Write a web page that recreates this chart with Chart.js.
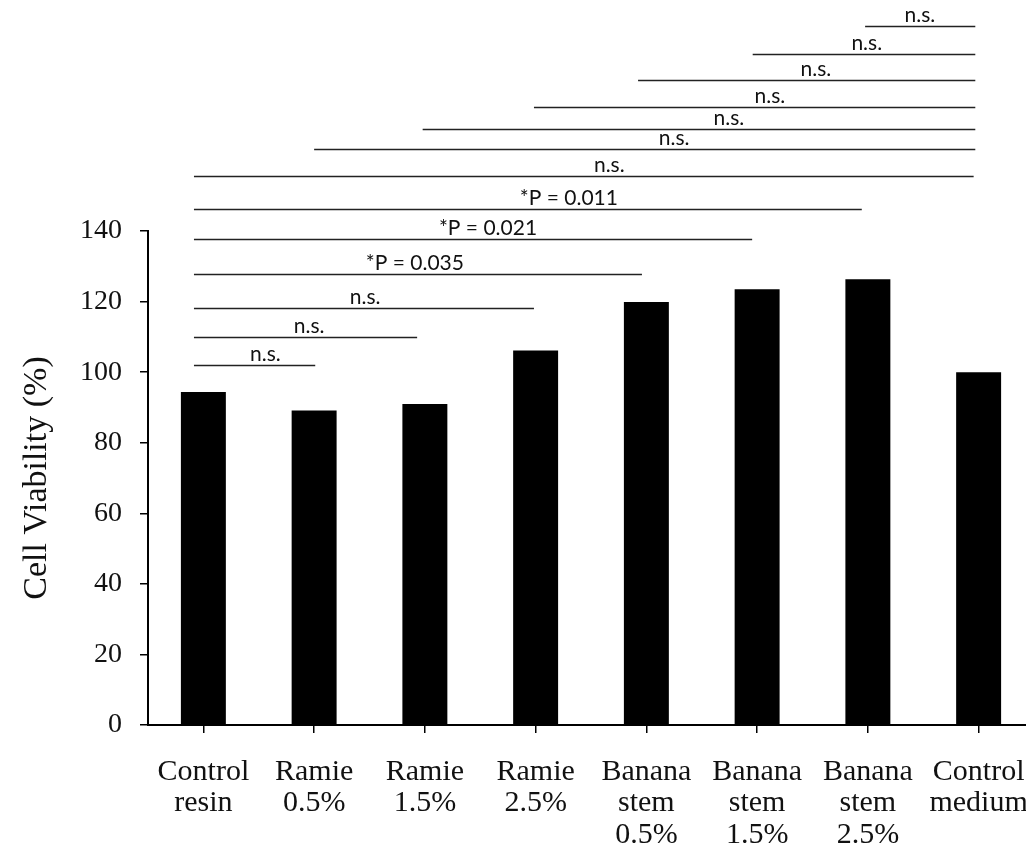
<!DOCTYPE html>
<html>
<head>
<meta charset="utf-8">
<script src="https://cdn.jsdelivr.net/npm/chart.js@4.4.0/dist/chart.umd.min.js"></script>
<style>
  html, body { margin: 0; padding: 0; background: #fff; overflow: hidden; }
  #wrap { position: absolute; left: 0; top: 0; width: 1040px; height: 845px; }
</style>
</head>
<body>
<div id="wrap"><canvas id="chart"></canvas></div>
<script>
// bar data
const categories = [
  ['Control', 'resin'], ['Ramie', '0.5%'], ['Ramie', '1.5%'], ['Ramie', '2.5%'],
  ['Banana', 'stem', '0.5%'], ['Banana', 'stem', '1.5%'], ['Banana', 'stem', '2.5%'],
  ['Control', 'medium']
];
const viability = [94.4, 89.1, 91.0, 106.1, 119.9, 123.5, 126.3, 100.0];
const yTicks = [0, 20, 40, 60, 80, 100, 120, 140];

// significance bars: start / end in category units, height in % units
const sigFrom = [-0.085, -0.085, -0.085, -0.085, -0.085, -0.085, -0.085, 1.0, 1.98, 2.985, 3.925, 4.96, 5.975];
const sigTo = [1.01, 1.93, 2.985, 3.96, 4.955, 5.945, 6.955, 6.97, 6.97, 6.97, 6.97, 6.97, 6.97];
const sigLevel = [101.9, 110.1, 118.2, 127.7, 137.6, 146.2, 155.7, 163.1, 168.9, 175.2, 182.7, 190.1, 198.1];
const sigText = ['n.s.', 'n.s.', 'n.s.', '*P = 0.035', '*P = 0.021', '*P = 0.011',
  'n.s.', 'n.s.', 'n.s.', 'n.s.', 'n.s.', 'n.s.', 'n.s.'];
const sigTextAt = [0.56, 0.955, 1.46, 1.91, 2.57, 3.3, 3.665, 4.25, 4.745, 5.115, 5.53, 5.99, 6.47];

const SERIF = '"Liberation Serif", "Times New Roman", serif';
const SANS = 'Lato, "Open Sans", sans-serif';

const sigPlugin = {
  id: 'sigBars',
  afterDraw(chart) {
    const ctx = chart.ctx;
    const xs = chart.scales.x;
    const ys = chart.scales.y;
    ctx.save();
    ctx.strokeStyle = '#222';
    ctx.lineWidth = 1.6;
    ctx.fillStyle = '#111';
    ctx.font = '21px ' + SANS;
    ctx.textAlign = 'center';
    ctx.textBaseline = 'bottom';
    sigLevel.forEach((lvl, i) => {
      const y = Math.round(ys.getPixelForValue(lvl)) + 0.5;
      ctx.beginPath();
      ctx.moveTo(xs.getPixelForValue(sigFrom[i]), y);
      ctx.lineTo(xs.getPixelForValue(sigTo[i]), y);
      ctx.stroke();
      ctx.fillText(sigText[i], xs.getPixelForValue(sigTextAt[i]), y - 1);
    });
    ctx.restore();
  }
};

new Chart(document.getElementById('chart'), {
  type: 'bar',
  data: {
    labels: categories,
    datasets: [{
      data: viability,
      backgroundColor: '#000',
      borderWidth: 0,
      barPercentage: 0.406,
      categoryPercentage: 1
    }]
  },
  options: {
    responsive: true,
    maintainAspectRatio: false,
    animation: false,
    layout: { padding: { top: 231, right: 6, bottom: 0, left: 0 } },
    plugins: { legend: { display: false }, tooltip: { enabled: false } },
    scales: {
      x: {
        grid: { offset: false, drawOnChartArea: false, drawTicks: true, tickLength: 8, color: '#000', lineWidth: 1.5 },
        border: { color: '#000', width: 2 },
        ticks: {
          color: '#111',
          padding: 23,
          maxRotation: 0,
          autoSkip: false,
          font: { family: SERIF, size: 30, lineHeight: 1.05 }
        },
        afterFit(scale) {
          scale.height = 120;
          scale.paddingLeft = 0;
          scale.paddingRight = 0;
        }
      },
      y: {
        min: 0,
        max: 140,
        afterBuildTicks(scale) { scale.ticks = yTicks.map(v => ({ value: v })); },
        grid: { drawOnChartArea: false, drawTicks: true, tickLength: 8, color: '#000', lineWidth: 1.5 },
        border: { color: '#000', width: 2 },
        ticks: {
          color: '#111',
          padding: 18,
          font: { family: SERIF, size: 28 }
        },
        title: {
          display: true,
          text: 'Cell Viability (%)',
          color: '#111',
          padding: { top: 17, bottom: 0 },
          font: { family: SERIF, size: 34 }
        },
        afterFit(scale) { scale.width = 148; }
      }
    }
  },
  plugins: [sigPlugin]
});
</script>
</body>
</html>
